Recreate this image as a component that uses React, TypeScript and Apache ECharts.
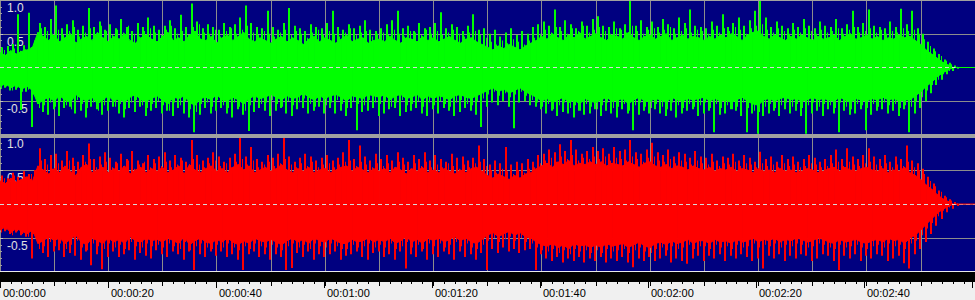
import React, { useEffect, useRef } from "react";
import * as echarts from "echarts";

// ---- time axis (seconds) ----
const TOTAL_SECONDS = 180;
const END_TIME = 176.4;
const BODY_STEP = 1; // seconds between body-envelope samples
const PEAK_STEP = 1; // seconds between peak samples
const RULER_LABELS = [
  "00:00:00", "00:00:20", "00:00:40", "00:01:00", "00:01:20",
  "00:01:40", "00:02:00", "00:02:20", "00:02:40",
];

// ---- left channel (green), amplitude in hundredths, one value per second ----
const greenPeakHi = [
  30, 32, 35, 79, 33, 81, 40, 66, 60, 72,
  92, 58, 64, 70, 56, 62, 88, 60, 68, 56,
  64, 58, 72, 60, 54, 66, 60, 74, 62, 56,
  62, 70, 58, 78, 60, 95, 68, 58, 64, 60,
  56, 66, 60, 64, 74, 92, 66, 60, 58, 84,
  60, 56, 66, 88, 62, 58, 54, 64, 60, 58,
  66, 84, 60, 56, 64, 58, 62, 70, 56, 54,
  58, 64, 70, 84, 58, 62, 54, 66, 58, 60,
  66, 82, 58, 64, 60, 54, 62, 79, 56, 58,
  50, 56, 46, 52, 58, 48, 54, 50, 60, 64,
  68, 62, 86, 60, 70, 64, 58, 68, 62, 72,
  76, 62, 60, 68, 58, 64, 99, 62, 70, 60,
  68, 60, 72, 64, 58, 74, 66, 86, 62, 60,
  58, 68, 62, 79, 60, 66, 74, 62, 70, 84,
  99, 74, 60, 68, 62, 58, 66, 60, 72, 62,
  58, 68, 62, 60, 72, 58, 64, 84, 60, 66,
  86, 62, 60, 58, 68, 60, 87, 64, 84, 58,
  50, 38, 28, 20, 12, 7, 3,
];
const greenPeakLo = [
  -30, -34, -33, -63, -36, -88, -40, -66, -70, -62,
  -72, -60, -58, -68, -64, -74, -58, -62, -70, -64,
  -58, -68, -74, -60, -66, -58, -72, -64, -60, -68,
  -64, -72, -60, -68, -74, -96, -70, -60, -68, -64,
  -60, -68, -74, -62, -70, -94, -66, -60, -64, -72,
  -64, -60, -68, -72, -62, -60, -68, -64, -58, -68,
  -60, -68, -64, -72, -60, -93, -66, -64, -60, -72,
  -68, -62, -60, -72, -66, -64, -60, -68, -72, -62,
  -68, -60, -64, -72, -66, -60, -64, -70, -88, -58,
  -52, -56, -50, -58, -90, -52, -50, -56, -58, -62,
  -68, -64, -72, -66, -68, -74, -64, -70, -68, -62,
  -72, -64, -68, -74, -62, -68, -93, -70, -64, -68,
  -62, -68, -72, -64, -74, -68, -64, -62, -72, -68,
  -64, -96, -70, -68, -62, -64, -72, -96, -68, -98,
  -72, -68, -64, -72, -62, -68, -64, -72, -98, -68,
  -64, -72, -62, -68, -96, -64, -70, -68, -62, -93,
  -70, -64, -62, -68, -64, -72, -62, -96, -68, -60,
  -50, -38, -26, -18, -10, -5, -2,
];
const greenMidHi = [
  26, 24, 28, 25, 27, 30, 34, 58, 54, 50,
  56, 48, 54, 60, 46, 52, 58, 50, 62, 54,
  48, 56, 52, 62, 50, 46, 54, 58, 52, 48,
  56, 62, 50, 54, 48, 60, 64, 52, 50, 56,
  46, 54, 58, 50, 56, 62, 52, 48, 54, 50,
  46, 52, 56, 48, 54, 50, 44, 52, 56, 48,
  54, 50, 46, 52, 58, 48, 52, 54, 46, 50,
  52, 48, 56, 50, 46, 54, 52, 48, 56, 50,
  54, 48, 52, 56, 50, 46, 52, 54, 48, 44,
  38, 34, 40, 36, 42, 38, 34, 40, 44, 50,
  56, 52, 60, 54, 50, 58, 54, 62, 52, 56,
  60, 54, 50, 58, 56, 52, 62, 54, 50, 56,
  58, 52, 56, 60, 50, 54, 58, 52, 56, 54,
  50, 56, 52, 58, 54, 60, 56, 50, 58, 62,
  64, 56, 52, 58, 54, 50, 56, 52, 58, 54,
  50, 56, 52, 54, 58, 50, 56, 60, 52, 54,
  58, 52, 56, 50, 54, 52, 58, 54, 56, 50,
  42, 32, 24, 17, 10, 5, 1,
];
const greenMidLo = [
  -32, -28, -34, -30, -36, -33, -40, -60, -56, -52,
  -58, -50, -56, -62, -48, -54, -60, -52, -64, -56,
  -50, -58, -54, -62, -52, -48, -56, -60, -54, -50,
  -56, -64, -52, -56, -50, -62, -66, -54, -52, -58,
  -48, -56, -60, -52, -58, -64, -56, -50, -54, -52,
  -48, -54, -58, -50, -56, -52, -46, -54, -58, -50,
  -56, -52, -48, -54, -60, -50, -54, -56, -48, -52,
  -54, -50, -58, -52, -48, -56, -54, -50, -58, -52,
  -56, -50, -54, -58, -52, -48, -54, -56, -50, -46,
  -40, -36, -42, -38, -44, -40, -36, -42, -48, -52,
  -58, -54, -62, -56, -52, -60, -56, -64, -54, -58,
  -62, -56, -52, -60, -58, -54, -64, -56, -52, -58,
  -60, -54, -58, -62, -52, -56, -60, -54, -58, -56,
  -52, -60, -54, -60, -56, -62, -58, -52, -60, -64,
  -66, -58, -54, -60, -56, -52, -58, -54, -60, -56,
  -52, -58, -54, -56, -60, -52, -58, -62, -54, -56,
  -60, -54, -58, -52, -56, -54, -60, -56, -58, -50,
  -44, -34, -26, -18, -10, -5, -1,
];
const greenBodyHi = [
  22, 18, 25, 20, 24, 26, 30, 52, 46, 40,
  48, 38, 44, 50, 36, 42, 46, 40, 52, 44,
  38, 46, 42, 50, 40, 36, 44, 48, 42, 38,
  46, 52, 40, 44, 38, 48, 54, 42, 40, 46,
  36, 44, 48, 40, 46, 52, 42, 38, 44, 40,
  36, 42, 46, 38, 44, 40, 34, 42, 46, 38,
  44, 40, 36, 42, 48, 38, 42, 44, 36, 40,
  42, 38, 46, 40, 36, 44, 42, 38, 46, 40,
  44, 38, 42, 46, 40, 36, 42, 44, 38, 34,
  30, 26, 32, 28, 34, 30, 26, 32, 36, 40,
  46, 42, 50, 44, 40, 48, 44, 52, 42, 46,
  50, 44, 40, 48, 46, 42, 52, 44, 40, 46,
  48, 42, 46, 50, 40, 44, 48, 42, 46, 44,
  40, 46, 42, 48, 44, 50, 46, 40, 48, 52,
  54, 46, 42, 48, 44, 40, 46, 42, 48, 44,
  40, 46, 42, 44, 48, 40, 46, 50, 42, 44,
  48, 42, 46, 40, 44, 42, 48, 44, 46, 40,
  34, 26, 20, 14, 8, 4, 0,
];
const greenBodyLo = [
  -28, -24, -30, -26, -32, -28, -34, -54, -48, -44,
  -50, -42, -48, -52, -40, -46, -50, -44, -54, -48,
  -42, -50, -46, -52, -44, -40, -48, -50, -46, -42,
  -48, -54, -44, -46, -42, -52, -56, -46, -44, -48,
  -40, -48, -50, -44, -48, -54, -46, -42, -46, -44,
  -40, -44, -48, -42, -46, -44, -38, -44, -48, -42,
  -46, -42, -40, -44, -50, -42, -44, -46, -40, -42,
  -44, -40, -48, -42, -40, -46, -44, -40, -48, -42,
  -46, -42, -44, -48, -42, -40, -44, -46, -42, -38,
  -34, -30, -36, -32, -38, -34, -30, -36, -40, -44,
  -50, -46, -52, -48, -44, -52, -48, -54, -46, -50,
  -52, -48, -44, -50, -48, -46, -54, -48, -44, -50,
  -50, -46, -48, -52, -44, -48, -50, -46, -48, -46,
  -44, -50, -46, -50, -48, -52, -48, -44, -50, -54,
  -56, -48, -46, -50, -46, -44, -48, -46, -50, -48,
  -44, -48, -46, -48, -50, -44, -48, -52, -46, -48,
  -50, -46, -48, -44, -48, -46, -50, -48, -48, -42,
  -36, -28, -22, -14, -8, -4, 0,
];

// ---- right channel (red), amplitude in hundredths, one value per second ----
const redPeakHi = [
  42, 38, 46, 40, 48, 44, 50, 82, 66, 72,
  74, 64, 78, 68, 62, 72, 89, 66, 70, 76,
  68, 62, 74, 66, 78, 64, 60, 72, 66, 70,
  76, 64, 72, 68, 62, 94, 72, 64, 68, 76,
  70, 62, 68, 74, 97, 70, 84, 66, 62, 72,
  68, 74, 99, 70, 62, 68, 74, 70, 64, 68,
  72, 64, 68, 76, 94, 66, 86, 70, 64, 74,
  66, 72, 64, 76, 68, 62, 72, 66, 76, 64,
  72, 66, 62, 74, 68, 70, 64, 68, 86, 66,
  58, 64, 60, 84, 58, 62, 60, 66, 62, 72,
  74, 80, 76, 88, 78, 94, 80, 74, 78, 84,
  78, 82, 74, 84, 78, 80, 94, 76, 74, 80,
  90, 76, 72, 80, 70, 76, 74, 68, 78, 70,
  68, 74, 64, 70, 68, 74, 64, 72, 68, 62,
  77, 66, 70, 62, 72, 66, 70, 62, 66, 72,
  68, 62, 66, 72, 80, 66, 82, 70, 66, 72,
  82, 70, 66, 72, 62, 70, 66, 86, 64, 60,
  52, 40, 30, 20, 12, 7, 3,
];
const redPeakLo = [
  -40, -44, -42, -46, -48, -80, -52, -72, -78, -70,
  -68, -78, -72, -76, -82, -70, -90, -74, -96, -78,
  -70, -78, -74, -68, -82, -72, -76, -80, -68, -74,
  -78, -70, -74, -82, -70, -97, -74, -78, -70, -76,
  -70, -78, -74, -82, -97, -74, -70, -78, -74, -82,
  -74, -78, -97, -94, -72, -78, -70, -82, -74, -78,
  -74, -70, -82, -76, -74, -70, -78, -82, -72, -70,
  -78, -74, -82, -70, -95, -74, -78, -70, -82, -74,
  -78, -70, -74, -82, -70, -78, -74, -82, -72, -97,
  -66, -72, -64, -70, -66, -72, -68, -66, -97, -74,
  -80, -84, -78, -86, -80, -84, -78, -86, -80, -84,
  -78, -86, -80, -84, -78, -86, -93, -80, -84, -78,
  -84, -80, -76, -86, -80, -84, -88, -80, -76, -84,
  -76, -80, -74, -84, -76, -80, -74, -78, -84, -80,
  -95, -76, -80, -74, -84, -76, -80, -74, -76, -84,
  -80, -74, -76, -84, -97, -76, -80, -74, -84, -76,
  -80, -74, -76, -84, -80, -76, -87, -95, -74, -66,
  -56, -44, -32, -22, -12, -7, -3,
];
const redMidHi = [
  38, 34, 42, 36, 40, 44, 40, 64, 58, 52,
  60, 54, 64, 56, 50, 62, 66, 54, 58, 62,
  54, 60, 56, 64, 52, 58, 62, 54, 60, 56,
  62, 54, 58, 64, 52, 66, 58, 54, 60, 64,
  56, 60, 54, 62, 66, 58, 64, 54, 58, 62,
  56, 60, 66, 58, 54, 60, 56, 62, 54, 58,
  60, 54, 58, 62, 64, 56, 62, 58, 54, 60,
  56, 60, 54, 62, 58, 52, 60, 56, 62, 54,
  58, 54, 60, 56, 52, 58, 54, 60, 62, 56,
  50, 46, 52, 48, 44, 50, 46, 52, 54, 60,
  64, 68, 62, 70, 66, 72, 64, 68, 66, 70,
  66, 70, 64, 68, 66, 64, 70, 66, 62, 68,
  70, 64, 62, 66, 60, 64, 62, 58, 64, 60,
  58, 62, 56, 60, 58, 62, 56, 60, 58, 54,
  60, 56, 58, 54, 60, 56, 58, 54, 56, 60,
  58, 54, 56, 60, 62, 56, 62, 58, 56, 60,
  62, 58, 56, 60, 54, 58, 56, 62, 54, 50,
  44, 34, 26, 18, 10, 5, 1,
];
const redMidLo = [
  -42, -38, -46, -40, -44, -48, -44, -66, -62, -56,
  -62, -58, -66, -60, -54, -64, -68, -58, -62, -66,
  -58, -64, -60, -66, -56, -62, -64, -58, -62, -60,
  -64, -58, -62, -66, -56, -68, -62, -58, -64, -66,
  -60, -64, -58, -64, -68, -62, -66, -58, -62, -64,
  -60, -64, -68, -62, -58, -64, -60, -66, -58, -62,
  -64, -58, -62, -66, -66, -60, -64, -62, -58, -64,
  -60, -64, -58, -66, -62, -56, -64, -60, -66, -58,
  -62, -58, -64, -60, -56, -62, -58, -64, -66, -60,
  -54, -50, -56, -52, -48, -54, -50, -56, -58, -64,
  -68, -70, -66, -72, -68, -74, -66, -70, -68, -72,
  -68, -72, -66, -70, -68, -66, -72, -68, -64, -70,
  -72, -66, -64, -68, -62, -66, -64, -60, -66, -62,
  -62, -66, -60, -64, -62, -66, -60, -64, -62, -58,
  -64, -60, -62, -58, -64, -60, -62, -58, -60, -64,
  -62, -58, -60, -64, -66, -60, -64, -62, -60, -64,
  -66, -62, -60, -64, -58, -62, -60, -66, -58, -54,
  -46, -36, -28, -18, -10, -5, -1,
];
const redBodyHi = [
  34, 30, 38, 32, 36, 40, 34, 56, 50, 44,
  52, 46, 56, 48, 42, 54, 58, 46, 50, 54,
  46, 52, 48, 56, 44, 50, 54, 46, 52, 48,
  54, 46, 50, 56, 44, 58, 50, 46, 52, 56,
  48, 52, 46, 54, 58, 50, 56, 46, 50, 54,
  48, 52, 58, 50, 46, 52, 48, 54, 46, 50,
  52, 46, 50, 54, 56, 48, 54, 50, 46, 52,
  48, 52, 46, 54, 50, 44, 52, 48, 54, 46,
  50, 46, 52, 48, 44, 50, 46, 52, 54, 48,
  42, 38, 44, 40, 36, 42, 38, 44, 46, 52,
  56, 60, 54, 62, 58, 64, 56, 60, 58, 62,
  58, 62, 56, 60, 58, 56, 62, 58, 54, 60,
  62, 56, 54, 58, 52, 56, 54, 50, 56, 52,
  50, 54, 48, 52, 50, 54, 48, 52, 50, 46,
  52, 48, 50, 46, 52, 48, 50, 46, 48, 52,
  50, 46, 48, 52, 54, 48, 54, 50, 48, 52,
  54, 50, 48, 52, 46, 50, 48, 54, 46, 42,
  36, 28, 22, 14, 8, 4, 0,
];
const redBodyLo = [
  -38, -34, -42, -36, -40, -44, -38, -58, -54, -48,
  -54, -50, -58, -52, -46, -56, -60, -50, -54, -58,
  -50, -56, -52, -58, -48, -54, -56, -50, -54, -52,
  -56, -50, -54, -58, -48, -60, -54, -50, -56, -58,
  -52, -56, -50, -56, -60, -54, -58, -50, -54, -56,
  -52, -56, -60, -54, -50, -56, -52, -58, -50, -54,
  -56, -50, -54, -58, -58, -52, -56, -54, -50, -56,
  -52, -56, -50, -58, -54, -48, -56, -52, -58, -50,
  -54, -50, -56, -52, -48, -54, -50, -56, -58, -52,
  -46, -42, -48, -44, -40, -46, -42, -48, -50, -56,
  -60, -62, -58, -64, -60, -66, -58, -62, -60, -64,
  -60, -64, -58, -62, -60, -58, -64, -60, -56, -62,
  -64, -58, -56, -60, -54, -58, -56, -52, -58, -54,
  -54, -58, -52, -56, -54, -58, -52, -56, -54, -50,
  -56, -52, -54, -50, -56, -52, -54, -50, -52, -56,
  -54, -50, -52, -56, -58, -52, -56, -54, -52, -56,
  -58, -54, -52, -56, -50, -54, -52, -58, -50, -46,
  -38, -30, -22, -14, -8, -4, 0,
];

const GREEN = "#00ff00";
const RED = "#ff0000";
const NAVY = "#000080";
const GRID_GRAY = "#8c8c8c";

function bodyData(hi: number[], lo: number[]) {
  const out: number[][] = [];
  for (let i = 0; i < hi.length - 1; i++) {
    out.push([
      i * BODY_STEP, hi[i] / 100, lo[i] / 100,
      (i + 1) * BODY_STEP, hi[i + 1] / 100, lo[i + 1] / 100,
    ]);
  }
  return out;
}

function peakData(hi: number[], lo: number[], midHi: number[], midLo: number[]) {
  return hi.map((v, i) => [i * PEAK_STEP, v / 100, lo[i] / 100, midHi[i] / 100, midLo[i] / 100]);
}

function bodyRender(color: string) {
  return (_params: any, api: any) => {
    const a = api.coord([api.value(0), api.value(1)]);
    const b = api.coord([api.value(3), api.value(4)]);
    const c = api.coord([api.value(3), api.value(5)]);
    const d = api.coord([api.value(0), api.value(2)]);
    return {
      type: "polygon",
      shape: { points: [a, b, c, d] },
      style: { fill: color, stroke: color, lineWidth: 1 },
    };
  };
}

function spike(color: string, x: number, yFrom: number, yTo: number, w: number) {
  const top = Math.min(yFrom, yTo);
  return {
    type: "rect",
    shape: { x: Math.round(x), y: top, width: w, height: Math.abs(yTo - yFrom) },
    style: { fill: color },
  };
}

function peakRender(color: string) {
  return (_params: any, api: any) => {
    const t = api.value(0);
    const z = api.coord([t, 0]);
    const h = api.coord([t + 0.2, api.value(1)]);
    const l = api.coord([t + 0.7, api.value(2)]);
    const mh = api.coord([t + 0.65, api.value(3)]);
    const ml = api.coord([t + 0.15, api.value(4)]);
    return {
      type: "group",
      children: [
        spike(color, h[0], z[1], h[1], 2),
        spike(color, l[0], z[1], l[1], 2),
        spike(color, mh[0], z[1], mh[1], 1),
        spike(color, ml[0], z[1], ml[1], 1),
      ],
    };
  };
}

function panelXAxis(gridIndex: number) {
  return {
    type: "value",
    gridIndex,
    min: 0,
    max: TOTAL_SECONDS,
    interval: 10,
    axisLine: { show: false },
    axisTick: { show: false },
    axisLabel: { show: false },
    splitLine: { show: true, lineStyle: { color: GRID_GRAY, width: 1 } },
  };
}

function panelYAxis(gridIndex: number) {
  return {
    type: "value",
    gridIndex,
    min: -1,
    max: 1,
    interval: 0.5,
    axisLine: { show: false },
    axisTick: { show: true, inside: true, length: 3, lineStyle: { color: "#c0c0c0" } },
    minorTick: { show: true, splitNumber: 5, length: 2, lineStyle: { color: "#a0a0a0" } },
    splitLine: { show: true, lineStyle: { color: GRID_GRAY, width: 1 } },
    axisLabel: {
      inside: true,
      margin: 7,
      color: "#e0e0e0",
      fontFamily: "Liberation Sans",
      fontSize: 12,
      verticalAlign: "top",
      padding: [2, 0, 0, 0],
      formatter: (v: number) => (v <= -1 ? "" : v.toFixed(1)),
    },
  };
}

function channelSeries(
  idx: number,
  color: string,
  bHi: number[],
  bLo: number[],
  pHi: number[],
  pLo: number[],
  mHi: number[],
  mLo: number[]
) {
  return [
    {
      type: "custom",
      xAxisIndex: idx,
      yAxisIndex: idx,
      z: 2,
      silent: true,
      renderItem: bodyRender(color),
      data: bodyData(bHi, bLo),
    },
    {
      type: "custom",
      xAxisIndex: idx,
      yAxisIndex: idx,
      z: 3,
      silent: true,
      renderItem: peakRender(color),
      data: peakData(pHi, pLo, mHi, mLo),
    },
    {
      type: "line",
      xAxisIndex: idx,
      yAxisIndex: idx,
      z: 5,
      silent: true,
      symbol: "none",
      lineStyle: { color, width: 1 },
      data: [
        [END_TIME, 0],
        [TOTAL_SECONDS, 0],
      ],
      markLine: {
        silent: true,
        symbol: "none",
        label: { show: false },
        lineStyle: { color: "#d8d8d8", type: [4, 3], width: 1 },
        data: [{ yAxis: 0 }],
      },
    },
  ];
}

export default function App() {
  const ref = useRef<HTMLDivElement>(null);

  useEffect(() => {
    document.body.style.margin = "0";
    if (!ref.current) return;
    const chart = echarts.init(ref.current, undefined, { renderer: "svg" });

    const gridBase = { left: -1, width: 977 };
    const option: any = {
      animation: false,
      backgroundColor: "#f0f0f0",
      grid: [
        { ...gridBase, top: -1, height: 136, show: true, backgroundColor: NAVY, borderWidth: 0 },
        { ...gridBase, top: 136, height: 136, show: true, backgroundColor: NAVY, borderWidth: 0 },
        { ...gridBase, top: 281, height: 1 },
        { ...gridBase, top: 281, height: 1 },
      ],
      xAxis: [
        panelXAxis(0),
        panelXAxis(1),
        {
          type: "value",
          gridIndex: 2,
          min: 0,
          max: TOTAL_SECONDS,
          interval: 20,
          axisLine: { show: false },
          axisTick: { show: true, length: 6, lineStyle: { color: "#000" } },
          splitLine: { show: false },
          axisLabel: {
            show: true,
            margin: 5,
            align: "left",
            padding: [0, 0, 0, 3],
            color: "#000",
            fontFamily: "Liberation Sans",
            fontSize: 11,
            formatter: (v: number) => RULER_LABELS[Math.round(v / 20)] ?? "",
          },
        },
        {
          type: "value",
          gridIndex: 3,
          min: 0,
          max: TOTAL_SECONDS,
          interval: 10,
          axisLine: { show: false },
          axisTick: { show: true, length: 4, lineStyle: { color: "#000" } },
          minorTick: { show: true, splitNumber: 5, length: 2, lineStyle: { color: "#000" } },
          splitLine: { show: false },
          axisLabel: { show: false },
        },
      ],
      yAxis: [
        panelYAxis(0),
        panelYAxis(1),
        { type: "value", gridIndex: 2, show: false },
        { type: "value", gridIndex: 3, show: false },
      ],
      series: [
        ...channelSeries(0, GREEN, greenBodyHi, greenBodyLo, greenPeakHi, greenPeakLo, greenMidHi, greenMidLo),
        ...channelSeries(1, RED, redBodyHi, redBodyLo, redPeakHi, redPeakLo, redMidHi, redMidLo),
      ],
      graphic: [
        { type: "rect", z: 100, silent: true, shape: { x: 0, y: 0, width: 975, height: 1 }, style: { fill: "#a0a0a0" } },
        { type: "rect", z: 100, silent: true, shape: { x: 0, y: 134, width: 975, height: 4 }, style: { fill: "#a0a0a0" } },
        { type: "rect", z: 100, silent: true, shape: { x: 0, y: 271, width: 975, height: 1 }, style: { fill: "#e8e8e8" } },
        { type: "rect", z: 100, silent: true, shape: { x: 0, y: 272, width: 975, height: 10 }, style: { fill: "#000000" } },
      ],
    };

    chart.setOption(option);
    return () => chart.dispose();
  }, []);

  return <div ref={ref} style={{ width: 975, height: 300 }} />;
}
